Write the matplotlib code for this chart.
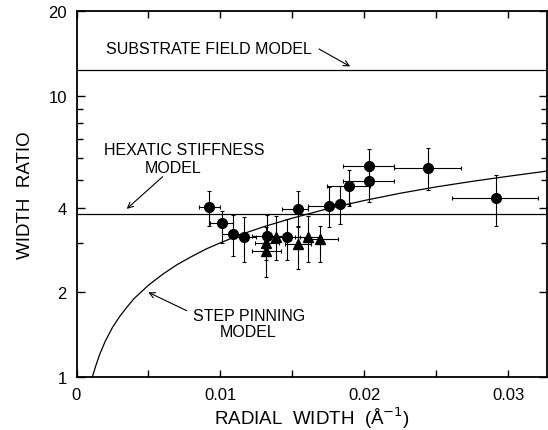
import numpy as np
import matplotlib
matplotlib.use("Agg")
import matplotlib.pyplot as plt
from matplotlib.ticker import FixedLocator, NullFormatter

plt.rcParams['font.family'] = ['Liberation Sans', 'DejaVu Sans']

# data
circ_x = [0.00923, 0.01008, 0.0109, 0.01167, 0.01323, 0.01466, 0.0154, 0.01756, 0.01828, 0.01897, 0.02036, 0.02036, 0.02446, 0.02915]
circ_y = [4.02, 3.53, 3.22, 3.14, 3.18, 3.15, 3.96, 4.04, 4.12, 4.76, 4.96, 5.64, 5.53, 4.33]
circ_ylo = [3.45, 3.0, 2.70, 2.56, 2.9, 2.6, 3.4, 3.41, 3.50, 4.06, 4.18, 4.9, 4.62, 3.43]
circ_yhi = [4.59, 3.9, 3.78, 3.70, 3.78, 3.65, 4.59, 4.73, 4.79, 5.44, 5.4, 6.46, 6.52, 5.24]
circ_xlo = [0.0085, 0.0093, 0.0101, 0.0109, 0.0122, 0.0137, 0.0143, 0.0161, 0.0174, 0.0174, 0.0185, 0.0185, 0.0221, 0.0261]
circ_xhi = [0.0100, 0.0109, 0.0117, 0.0125, 0.0145, 0.0155, 0.0161, 0.0183, 0.0190, 0.0204, 0.0221, 0.0221, 0.0267, 0.0321]

tri_x = [0.0132, 0.0132, 0.0139, 0.0154, 0.0161, 0.0169]
tri_y = [3.00, 2.80, 3.14, 2.97, 3.14, 3.10]
tri_ylo = [2.6, 2.26, 2.6, 2.42, 2.57, 2.57]
tri_yhi = [3.4, 3.2, 3.72, 3.45, 3.72, 3.45]
tri_xlo = [0.0124, 0.0122, 0.0131, 0.0145, 0.0152, 0.0158]
tri_xhi = [0.0141, 0.0142, 0.0148, 0.0163, 0.0170, 0.0182]

# step pinning model curve
pin_x = [0.0011, 0.0013, 0.0016, 0.002, 0.0025, 0.003, 0.0035, 0.004, 0.005, 0.006, 0.007, 0.008,
         0.009, 0.01, 0.0115, 0.013, 0.015, 0.0175, 0.02, 0.0225, 0.025, 0.0275, 0.03, 0.033]
pin_y = [1.0, 1.08, 1.2, 1.34, 1.5, 1.64, 1.77, 1.9, 2.12, 2.32, 2.51, 2.68,
         2.85, 3.0, 3.22, 3.42, 3.67, 3.97, 4.24, 4.5, 4.74, 4.96, 5.17, 5.42]

substrate_level = 12.3
hexatic_level = 3.80

x_ticks = [0, 0.01, 0.02, 0.03]
x_tick_labels = ['0', '0.01', '0.02', '0.03']
y_ticks = [1, 2, 4, 10, 20]
y_minor = [3, 5, 6, 7, 8, 9]

fig = plt.figure(figsize=(5.48, 4.31), dpi=100)
ax = fig.add_axes([76.5/548, 53/431, (547-76.5)/548, (378-12)/431])

ax.set_yscale('log')
ax.set_xlim(0, 0.0327)
ax.set_ylim(1, 20)

ax.axhline(substrate_level, color='black', lw=0.9)
ax.axhline(hexatic_level, color='black', lw=0.9)
ax.plot(pin_x, pin_y, color='black', lw=0.9)

def err(c, lo, hi):
    c = np.array(c); return [c - np.array(lo), np.array(hi) - c]

ax.errorbar(circ_x, circ_y, xerr=err(circ_x, circ_xlo, circ_xhi),
            yerr=err(circ_y, circ_ylo, circ_yhi), fmt='o', color='black',
            ms=7, elinewidth=0.8, capsize=1.5, capthick=0.8)
ax.errorbar(tri_x, tri_y, xerr=err(tri_x, tri_xlo, tri_xhi),
            yerr=err(tri_y, tri_ylo, tri_yhi), fmt='^', color='black',
            ms=7, elinewidth=0.8, capsize=1.5, capthick=0.8)

ax.set_xticks(x_ticks)
ax.set_xticklabels(x_tick_labels)
ax.xaxis.set_minor_locator(FixedLocator([0.005, 0.015, 0.025]))
ax.set_yticks(y_ticks)
ax.set_yticklabels([str(v) for v in y_ticks])
ax.yaxis.set_minor_locator(FixedLocator(y_minor))
ax.yaxis.set_minor_formatter(NullFormatter())

ax.tick_params(axis='both', which='both', direction='in', top=True, right=True,
               labelsize=12, pad=7, width=1.0)
ax.tick_params(axis='x', which='both', length=5)
ax.tick_params(axis='y', which='major', length=6)
ax.tick_params(axis='y', which='minor', length=4)
for s in ax.spines.values():
    s.set_linewidth(1.3)

ax.set_ylabel('WIDTH  RATIO', fontsize=13.5, labelpad=10)
fig.text(312/548, 13/431, 'RADIAL  WIDTH  (Å$^{-1}$)', fontsize=13.5, ha='center', va='center')

arrow = dict(arrowstyle='->', color='black', lw=0.8, shrinkA=0, shrinkB=0)
ax.annotate('', xy=(0.01902, 12.7), xytext=(319, 381), textcoords='figure pixels', arrowprops=arrow)
fig.text(208.5/548, 381/431, 'SUBSTRATE FIELD MODEL', fontsize=11.5, ha='center', va='center')

ax.annotate('', xy=(0.00349, 3.96), xytext=(162.7, 253.3), textcoords='figure pixels', arrowprops=arrow)
fig.text(184.5/548, (431-150.7)/431, 'HEXATIC STIFFNESS', fontsize=11.5, ha='center', va='center')
fig.text(173/548, (431-168.3)/431, 'MODEL', fontsize=11.5, ha='center', va='center')

ax.annotate('', xy=(0.00499, 2.0), xytext=(186.7, 119.3), textcoords='figure pixels', arrowprops=arrow)
fig.text(249/548, (431-316.7)/431, 'STEP PINNING', fontsize=11.5, ha='center', va='center')
fig.text(248.5/548, (431-332.7)/431, 'MODEL', fontsize=11.5, ha='center', va='center')

fig.savefig('out.png', dpi=100)
